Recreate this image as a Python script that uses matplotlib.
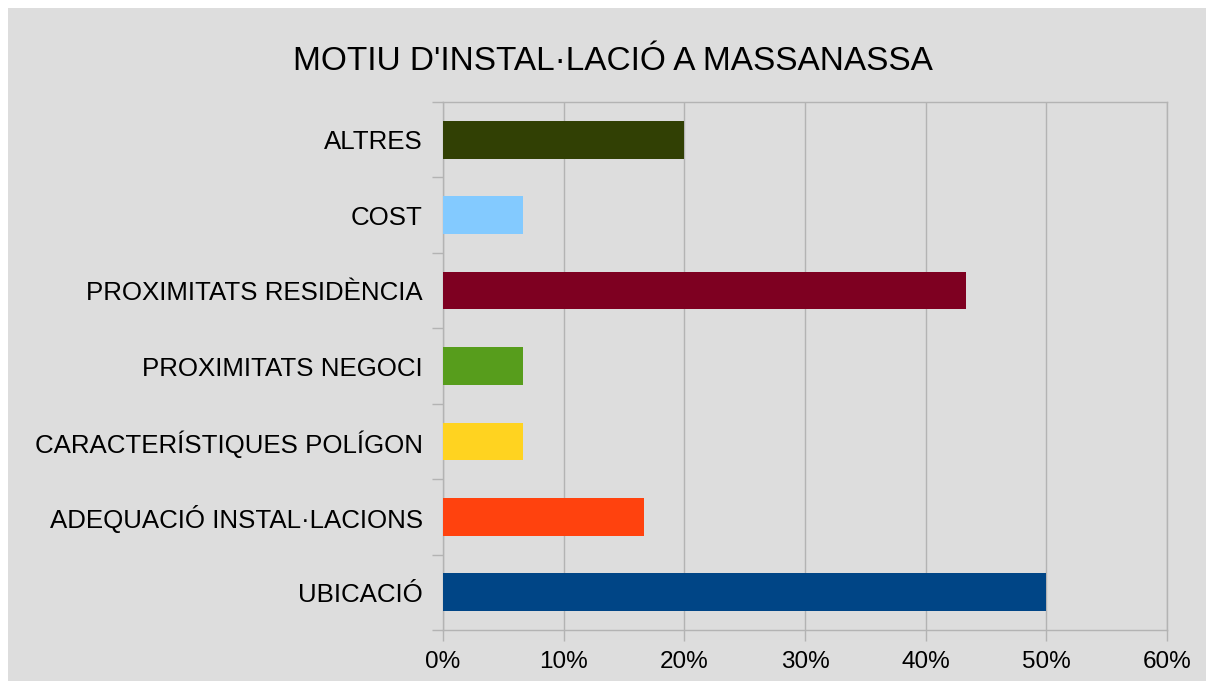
import matplotlib.pyplot as plt
import matplotlib.patches as mpatches
from matplotlib.ticker import FuncFormatter
import numpy as np

plt.rcParams['font.family'] = ['Liberation Sans', 'DejaVu Sans']

categories = ['UBICACIÓ', 'ADEQUACIÓ INSTAL·LACIONS', 'CARACTERÍSTIQUES POLÍGON',
              'PROXIMITATS NEGOCI', 'PROXIMITATS RESIDÈNCIA', 'COST', 'ALTRES']
values = [50.0, 16.67, 6.67, 6.67, 43.33, 6.67, 20.0]
colors = ['#004586', '#ff420e', '#ffd320', '#579d1c', '#7e0021', '#83caff', '#314004']
title = "MOTIU D'INSTAL·LACIÓ A MASSANASSA"

bg = '#dddddd'
grid = '#b3b3b3'

fig = plt.figure(figsize=(12.06, 6.81), dpi=100)
fig.patch.set_facecolor('white')
fig.patches.append(mpatches.Rectangle((8 / 1206, 0), 1, 1 - 8 / 681,
                                      transform=fig.transFigure, facecolor=bg,
                                      edgecolor='none', zorder=-10))

ax = fig.add_axes([443 / 1206, 1 - 630 / 681, (1167 - 443) / 1206, (630 - 102) / 681])
ax.set_facecolor(bg)

y = np.arange(len(categories))
ax.barh(y, values, height=0.5, color=colors, zorder=3)

ax.set_xlim(0, 60)
ax.set_ylim(-0.5, len(categories) - 0.5)
ax.set_xticks(np.arange(0, 61, 10))
ax.xaxis.set_major_formatter(FuncFormatter(lambda v, p: f'{v:.0f}%'))
ax.grid(axis='x', color=grid, linewidth=1, zorder=0)

# category labels at centres, tick marks at boundaries
ax.set_yticks(y)
ax.set_yticklabels(categories)
ax.set_yticks(np.arange(-0.5, len(categories), 1), minor=True)
ax.tick_params(axis='y', which='major', length=0, pad=14.5, labelsize=18.6)
ax.tick_params(axis='y', which='minor', length=8, color=grid, width=1)
ax.tick_params(axis='x', length=8, color=grid, width=1, pad=7, labelsize=17.5)

for s in ['top', 'right', 'bottom', 'left']:
    ax.spines[s].set_color(grid)
    ax.spines[s].set_linewidth(1)

fig.text(613 / 1206, 1 - 61 / 681, title, ha='center', va='center', fontsize=24)

fig.savefig('out.png', dpi=100)
